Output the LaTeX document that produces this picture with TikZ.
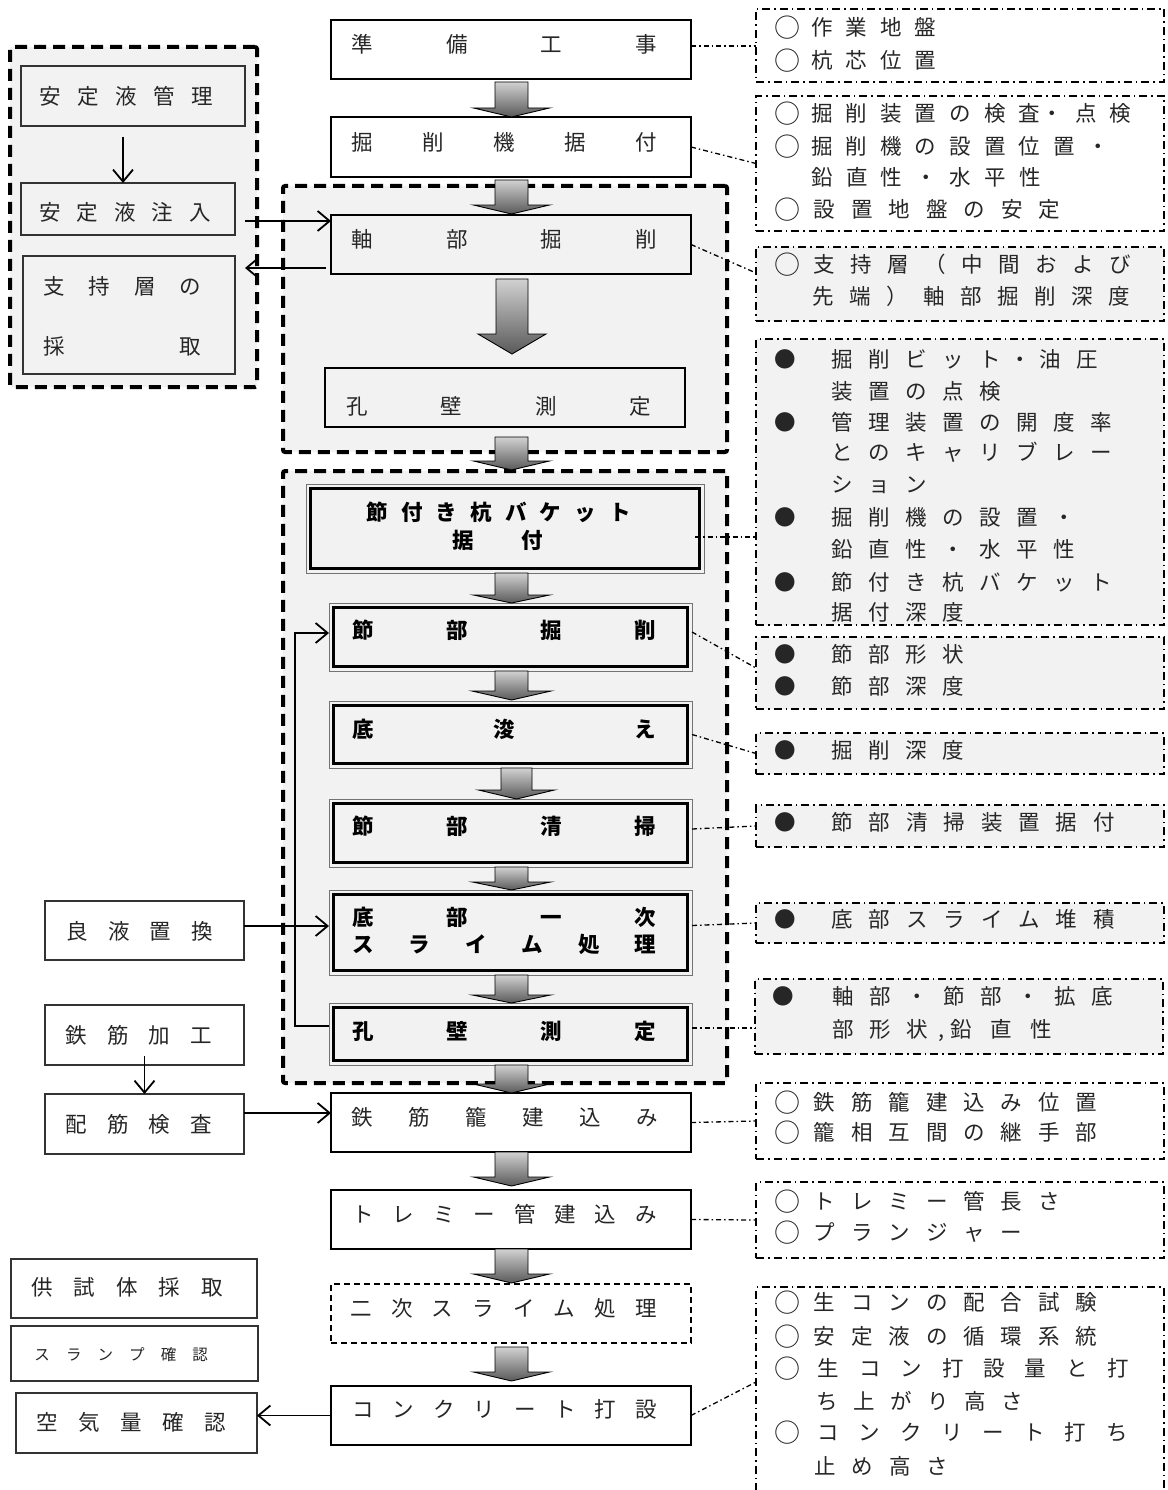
\documentclass[tikz,border=0pt]{standalone}
\usepackage{fontspec}
\newfontfamily\jp{Noto Sans CJK JP}
\usetikzlibrary{arrows.meta,calc}

% spaced characters: each glyph centred in a fixed cell, followed by a fixed gap
\makeatletter
\newdimen\chgap
\newdimen\cellw \cellw=20pt
\newcommand\spc[2]{{\chgap=#1\relax\@tfor\spcch:=#2\do{\makebox[\cellw]{\spcch}\kern\chgap}}}
\makeatother
\newcommand\cb[1]{\makebox[\cellw]{#1}}
\newcommand\maru{\raisebox{-1.8pt}{\fontsize{26}{26}\selectfont ○}}
\newcommand\bul{\cb{●}\kern37pt}

% rectangle node from two corners: [style]{name}{x1}{y1}{x2}{y2}
\newcommand\bx[6][]{%
  \pgfmathsetmacro\bxw{#5-#3}\pgfmathsetmacro\bxh{#6-#4}%
  \pgfmathsetmacro\bxx{(#3+#5)/2}\pgfmathsetmacro\bxy{(#4+#6)/2}%
  \node[#1, minimum width=\bxw pt, minimum height=\bxh pt, inner sep=0pt, outer sep=0pt] (#2) at (\bxx,\bxy) {};}

% shaded block arrow between two boxes:
% {from}{to}{x}{top gap}{bottom gap}{half shaft}{half head}{head height}
\newcommand\blockarrow[8]{%
  \path[blockarrow] let \p1=(#1.south), \p2=(#2.north) in
    (#3pt-#6pt,\y1-#4pt) -- (#3pt+#6pt,\y1-#4pt) -- (#3pt+#6pt,\y2+#5pt+#8pt)
    -- (#3pt+#7pt,\y2+#5pt+#8pt) -- (#3pt,\y2+#5pt) -- (#3pt-#7pt,\y2+#5pt+#8pt)
    -- (#3pt-#6pt,\y2+#5pt+#8pt) -- cycle;}

\tikzset{
  plainbox/.style={draw=black, line width=1.5pt, fill=white},
  softbox/.style={draw=black!80, line width=1.3pt, fill=black!5},
  softwbox/.style={draw=black!80, line width=1.3pt, fill=white},
  dblbox/.style={draw=black!55, line width=0.8pt, fill=black!5,
    path picture={\draw[black, line width=3.2pt]
      ([shift={(4.4pt,-4.4pt)}]path picture bounding box.north west) rectangle
      ([shift={(-4.4pt,4.4pt)}]path picture bounding box.south east);}},
  grpbox/.style={draw=black, line width=4pt, dash pattern=on 12pt off 7pt, fill=black!5, rounded corners=2pt},
  notebox/.style={draw=black, line width=1.5pt, dash pattern=on 8pt off 4pt on 1.5pt off 4pt},
  txtlabel/.style={font=\jp\fontsize{21.5}{25}\selectfont, text=black!85, inner sep=0pt, anchor=base west},
  btxtlabel/.style={txtlabel, font=\jp\bfseries\fontsize{21.5}{25}\selectfont, text=black},
  barbline/.style={draw=black, line width=1.8pt, -{Straight Barb[length=12pt,width=20pt]}},
  linkline/.style={draw=black, line width=1.3pt, dash pattern=on 5pt off 3pt on 1.5pt off 3pt},
  blockarrow/.style={draw=black, line width=0.9pt, top color=black!18, middle color=black!3, bottom color=black!65},
}

\begin{document}
\begin{tikzpicture}[x=1pt,y=-1pt]
\useasboundingbox (0,0) rectangle (1167,1490);

% dashed groups
\bx[grpbox]{grpL}{10}{47}{257}{387}
\bx[grpbox]{grpA}{283}{186}{727}{452}
\bx[grpbox]{grpB}{283}{471}{727}{1083}

% left boxes
\bx[softbox]{liq}{21}{66}{245}{126}
\bx[softbox]{inject}{21}{183}{235}{235}
\bx[softbox]{sample}{23}{256}{235}{374}
\bx[softwbox]{good}{45}{901}{244}{960}
\bx[softwbox]{rebar}{45}{1005}{244}{1065}
\bx[softwbox]{inspect}{45}{1094}{244}{1154}
\bx[softwbox]{spec}{11}{1259}{257}{1318}
\bx[softwbox]{slump}{11}{1326}{258}{1381}
\bx[softwbox]{air}{16}{1393}{257}{1453}

% main column
\bx[plainbox]{prep}{331}{20}{691}{79}
\bx[plainbox]{mount}{331}{117}{691}{177}
\bx[plainbox, fill=black!5]{shaft}{331}{215}{691}{274}
\bx[plainbox, fill=black!5]{wall1}{325}{368}{685}{427}
\bx[dblbox]{bucket}{306}{484}{704}{573}
\bx[dblbox]{nodeexc}{329}{603}{692}{671}
\bx[dblbox]{bottom}{329}{701}{692}{768}
\bx[dblbox]{clean}{329}{799}{692}{867}
\bx[dblbox]{slime1}{329}{890}{692}{975}
\bx[dblbox]{wall2}{329}{1003}{692}{1065}
\bx[plainbox]{cage}{331}{1093}{691}{1152}
\bx[plainbox]{tremie}{331}{1190}{691}{1249}
\bx[plainbox, dash pattern=on 6pt off 4pt]{slime2}{331}{1284}{691}{1343}
\bx[plainbox]{concrete}{331}{1386}{691}{1445}

% check-point boxes
\bx[notebox, fill=white]{A}{756}{9}{1164}{82}
\bx[notebox, fill=white]{B}{756}{96}{1164}{231}
\bx[notebox, fill=black!5]{C}{756}{247}{1164}{321}
\bx[notebox, fill=black!5]{D}{756}{339}{1164}{625}
\bx[notebox, fill=black!5]{E}{756}{637}{1164}{709}
\bx[notebox, fill=black!5]{F}{756}{733}{1164}{774}
\bx[notebox, fill=black!5]{G}{756}{805}{1164}{847}
\bx[notebox, fill=black!5]{H}{756}{903}{1164}{943}
\bx[notebox, fill=black!5]{I}{755}{979}{1163}{1054}
\bx[notebox, fill=white]{J}{756}{1083}{1164}{1159}
\bx[notebox, fill=white]{K}{756}{1182}{1164}{1258}
\bx[notebox, fill=white]{L}{756}{1287}{1164}{1500}

% main column labels
\node[txtlabel] (tprep) at (352,52.6) {\spc{74.67pt}{準備工事}};
\node[txtlabel] (tmount) at (352,150.6) {\spc{51pt}{掘削機据付}};
\node[txtlabel] (tshaft) at (352,247.6) {\spc{74.67pt}{軸部掘削}};
\node[txtlabel] (twall1) at (347,414.6) {\spc{74.3pt}{孔壁測定}};
\node[btxtlabel] (tbucket1) at (367,520.6) {\spc{14.7pt}{節付き杭バケット}};
\node[btxtlabel] (tbucket2) at (453,548.6) {\spc{14.5pt}{据　付}};
\node[btxtlabel] (tnodeexc) at (353,638.6) {\spc{74pt}{節部掘削}};
\node[btxtlabel] (tbottom) at (353,737.6) {\spc{121pt}{底浚え}};
\node[btxtlabel] (tclean) at (353,834.6) {\spc{74pt}{節部清掃}};
\node[btxtlabel] (tslime1a) at (353,925.6) {\spc{74pt}{底部一次}};
\node[btxtlabel] (tslime1b) at (353,952.6) {\spc{36.4pt}{スライム処理}};
\node[btxtlabel] (twall2) at (353,1039.6) {\spc{74pt}{孔壁測定}};
\node[txtlabel] (tcage) at (352,1125.6) {\spc{37pt}{鉄筋籠建込み}};
\node[txtlabel] (ttremie) at (353,1222.6) {\spc{20.4pt}{トレミー管建込み}};
\node[txtlabel] (tslime2) at (351,1316.6) {\spc{20.7pt}{二次スライム処理}};
\node[txtlabel] (tconcrete) at (353,1417.6) {\spc{20.4pt}{コンクリート打設}};

% left labels
\node[txtlabel] (tliq) at (40,104.6) {\spc{18pt}{安定液管理}};
\node[txtlabel] (tinject) at (40,220.6) {\spc{17.5pt}{安定液注入}};
\node[txtlabel] (tsample1) at (44,294.6) {\spc{25.3pt}{支持層の}};
\node[txtlabel] (tsample2) at (44,354.6) {\spc{25.3pt}{採　　取}};
\node[txtlabel] (tgood) at (67,939.6) {\spc{21.7pt}{良液置換}};
\node[txtlabel] (trebar) at (66,1043.6) {\spc{21.7pt}{鉄筋加工}};
\node[txtlabel] (tinspect) at (66,1132.6) {\spc{21.7pt}{配筋検査}};
\node[txtlabel] (tspec) at (32,1295.6) {\spc{22.5pt}{供試体採取}};
\node[txtlabel, font=\jp\fontsize{15.5}{18}\selectfont] (tslump) at (34.5,1360.7) {\cellw=15pt\spc{16.6pt}{スランプ確認}};
\node[txtlabel] (tair) at (37,1430.6) {\spc{22pt}{空気量確認}};

% check-point texts
\node[txtlabel] (tA1) at (777,35.6) {\spc{14.6pt}{{\maru}作業地盤}};
\node[txtlabel] (tA2) at (777,68.6) {\spc{14.6pt}{{\maru}杭芯位置}};
\node[txtlabel] (tB1) at (777,121.6) {\spc{14.6pt}{{\maru}掘削装置の検査}\kern-12pt\spc{14pt}{・点検}};
\node[txtlabel] (tB2) at (777,154.6) {\spc{14.6pt}{{\maru}掘削機の設置位置・}};
\node[txtlabel] (tB3) at (812,185.6) {\spc{14.6pt}{鉛直性・水平性}};
\node[txtlabel] (tB4) at (777,217.6) {\spc{17.5pt}{{\maru}設置地盤の安定}};
\node[txtlabel] (tC1) at (777,272.6) {\spc{17pt}{{\maru}支持層（中間および}};
\node[txtlabel] (tC2) at (813,304.6) {\spc{17pt}{先端）軸部掘削深度}};
\node[txtlabel] (tD1) at (775,367.6) {\bul\spc{17pt}{掘削ビット}\kern-7pt\cb{・}\kern10pt\cb{油}\kern17pt\cb{圧}};
\node[txtlabel] (tD2) at (832,399.6) {\spc{17pt}{装置の点検}};
\node[txtlabel] (tD3) at (775,430.6) {\bul\spc{17pt}{管理装置の開度率}};
\node[txtlabel] (tD4) at (832,460.6) {\spc{17pt}{とのキャリブレー}};
\node[txtlabel] (tD5) at (832,492.6) {\spc{17pt}{ション}};
\node[txtlabel] (tD6) at (775,525.6) {\bul\spc{17pt}{掘削機の設置・}};
\node[txtlabel] (tD7) at (832,557.6) {\spc{17pt}{鉛直性・水平性}};
\node[txtlabel] (tD8) at (775,590.6) {\bul\spc{17pt}{節付き杭バケット}};
\node[txtlabel] (tD9) at (832,620.6) {\spc{17pt}{据付深度}};
\node[txtlabel] (tE1) at (775,662.6) {\bul\spc{17pt}{節部形状}};
\node[txtlabel] (tE2) at (775,694.6) {\bul\spc{17pt}{節部深度}};
\node[txtlabel] (tF) at (775,758.6) {\bul\spc{17pt}{掘削深度}};
\node[txtlabel] (tG) at (775,830.6) {\bul\spc{17.4pt}{節部清掃装置据付}};
\node[txtlabel] (tH) at (775,927.6) {\bul\spc{17.4pt}{底部スライム堆積}};
\node[txtlabel] (tI1) at (773,1004.6) {\cb{●}\kern40pt\spc{17pt}{軸部・節部・拡底}};
\node[txtlabel] (tI2) at (833,1037.6) {\spc{17pt}{部形状}\kern-6pt,\kern7pt\spc{20pt}{鉛直性}};
\node[txtlabel] (tJ1) at (777,1110.6) {\spc{17.4pt}{{\maru}鉄筋籠建込み位置}};
\node[txtlabel] (tJ2) at (777,1140.6) {\spc{17.4pt}{{\maru}籠相互間の継手部}};
\node[txtlabel] (tK1) at (777,1209.6) {\spc{17.4pt}{{\maru}トレミー管長さ}};
\node[txtlabel] (tK2) at (777,1240.6) {\spc{17.4pt}{{\maru}プランジャー}};
\node[txtlabel] (tL1) at (777,1310.6) {\spc{17.4pt}{{\maru}生コンの配合試験}};
\node[txtlabel] (tL2) at (777,1344.6) {\spc{17.4pt}{{\maru}安定液の循環系統}};
\node[txtlabel] (tL3) at (777,1376.6) {\spc{21.4pt}{{\maru}生コン打設量と打}};
\node[txtlabel] (tL4) at (817,1409.6) {\spc{17pt}{ち上がり高さ}};
\node[txtlabel] (tL5) at (777,1440.6) {\spc{21.2pt}{{\maru}コンクリート打ち}};
\node[txtlabel] (tL6) at (815,1474.6) {\spc{17.4pt}{止め高さ}};

% block arrows of the main flow
\blockarrow{prep}{mount}{511.5}{3}{0}{16.5}{38}{9}
\blockarrow{mount}{shaft}{511.5}{3}{1}{16.5}{38}{9}
\blockarrow{shaft}{wall1}{512}{5}{14}{16}{34}{20}
\blockarrow{wall1}{bucket}{511.5}{10}{14}{16.5}{38}{9}
\blockarrow{bucket}{nodeexc}{511.5}{0}{0}{16.5}{38}{8}
\blockarrow{nodeexc}{bottom}{511.5}{0}{1}{16.5}{39.5}{9}
\blockarrow{bottom}{clean}{516.5}{0}{0}{15.5}{38}{9}
\blockarrow{clean}{slime1}{511.5}{0}{0}{16.5}{39}{8}
\blockarrow{slime1}{wall2}{511.5}{0}{0}{16.5}{39}{8}
\blockarrow{wall2}{cage}{511.5}{0}{0}{16.5}{38}{9}
\blockarrow{cage}{tremie}{511.5}{0}{4}{16.5}{38}{9}
\blockarrow{tremie}{slime2}{511.5}{0}{1}{16.5}{38}{9}
\blockarrow{slime2}{concrete}{511.5}{4}{5}{16.5}{38}{9}

% side arrows
\coordinate (l1) at ([xshift=-10pt,yshift=-11pt]liq.south);
\draw[barbline] (l1) -- (l1 |- inject.north);
\coordinate (c1) at ([xshift=10pt,yshift=-12pt]inject.east);
\draw[barbline] (c1) -- (c1 -| shaft.west);
\coordinate (c2) at ([xshift=-5pt,yshift=-23.5pt]shaft.west);
\draw[barbline, shorten >=10pt] (c2) -- (c2 -| sample.east);
\coordinate (c3) at ([yshift=4.5pt]good.east);
\draw[barbline] (c3) -- (c3 -| slime1.west);
\coordinate (c4) at ([yshift=9pt]rebar.south);
\draw[barbline] (c4) -- (inspect.north);
\coordinate (c5) at ([yshift=11pt]inspect.east);
\draw[barbline] (c5) -- (c5 -| cage.west);
\draw[barbline] (concrete.west) -- (concrete.west -| air.east);
\coordinate (c6) at ([yshift=8pt]wall2.west);
\coordinate (c7) at ([yshift=4pt]nodeexc.west);
\draw[barbline] (c6) -- ++(-34pt,0) |- (c7);

% dash-dot leaders to the check-point boxes
\coordinate (d1) at ([yshift=3.5pt]prep.east);
\draw[linkline] (d1) -- (d1 -| A.west);
\draw[linkline] (mount.east) -- (B.west);
\draw[linkline] (shaft.east) -- ([yshift=11pt]C.west);
\coordinate (d4) at ([xshift=-9pt,yshift=-8.5pt]bucket.east);
\draw[linkline] (d4) -- (d4 -| D.west);
\draw[linkline] ([yshift=5pt]nodeexc.east) -- ([yshift=5pt]E.west);
\draw[linkline] (bottom.east) -- (F.west);
\draw[linkline] ([yshift=4pt]clean.east) -- (G.west);
\draw[linkline] ([yshift=7pt]slime1.east) -- (H.west);
\coordinate (d9) at ([yshift=6pt]wall2.east);
\draw[linkline] (d9) -- (d9 -| I.west);
\draw[linkline] (cage.east) -- (J.west);
\draw[linkline] (tremie.east) -- (K.west);
\draw[linkline] (concrete.east) -- ([yshift=-95pt]L.north west);
\end{tikzpicture}
\end{document}
